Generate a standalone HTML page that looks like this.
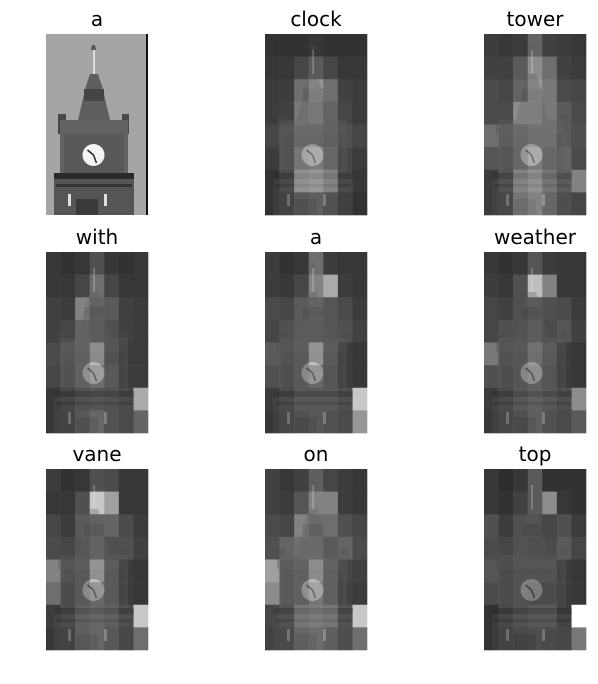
<!DOCTYPE html>
<html><head><meta charset="utf-8"><style>
body{margin:0;background:#fff;}
svg{display:block;}
text{font-family:"DejaVu Sans","Liberation Sans",sans-serif;font-size:20px;fill:#000;}
</style></head><body>
<svg id="fig" width="598" height="684" viewBox="0 0 598 684" xmlns="http://www.w3.org/2000/svg">
<defs>
<g id="tower">
  <rect x="47.3" y="13" width="1.6" height="27" fill="#e8e8e8"/>
  <path d="M46 11 l3 0 l1 5 l-5 0z" fill="#555"/>
  <path d="M44 40 L52 40 L56 52 L64 86 L32 86 L40 52 Z" fill="#5e5e5e"/>
  <rect x="38" y="55" width="20" height="12" fill="#444"/>
  <rect x="12" y="80" width="8" height="20" fill="#4a4a4a"/>
  <rect x="76" y="80" width="7" height="20" fill="#4a4a4a"/>
  <rect x="14" y="86" width="68" height="60" fill="#626262"/>
  <rect x="18" y="100" width="60" height="40" fill="#585858"/>
  <rect x="8" y="139" width="80" height="42" fill="#555"/>
  <rect x="8" y="139" width="80" height="6" fill="#2a2a2a"/>
  <rect x="10" y="150" width="76" height="3" fill="#333"/>
  <rect x="22" y="160" width="3" height="12" fill="#ddd"/>
  <rect x="58" y="160" width="3" height="12" fill="#ddd"/>
  <rect x="30" y="165" width="22" height="16" fill="#3a3a3a"/>
  <circle cx="47.5" cy="121" r="11" fill="#f4f4f4"/>
  <path d="M47.5 121 l-6 -5 M47.5 121 l3 8" stroke="#222" stroke-width="1.5"/>
</g>
</defs>
</svg>
<script>
const titles = ["a","clock","tower","with","a","weather","vane","on","top"];
const attClock = [[50,50,50,55,50,50,50],[55,55,70,90,70,55,55],[60,60,110,150,110,65,60],[60,65,120,130,100,70,60],[70,80,110,110,100,80,70],[60,80,130,140,110,70,60],[50,70,170,180,150,70,55],[50,60,90,100,80,55,50]];
const attTower = [[60,55,60,100,65,60,55],[65,65,90,140,110,65,60],[75,70,100,150,120,75,70],[75,75,140,140,120,90,75],[110,95,110,120,120,90,80],[85,85,110,140,110,100,75],[60,80,150,170,130,95,130],[60,65,130,150,110,75,70]];
const attWith = [[55,50,55,80,55,50,55],[55,55,70,110,70,55,55],[65,60,130,100,90,65,60],[65,70,100,90,80,65,60],[75,85,100,160,80,60,60],[70,80,100,120,90,60,60],[55,65,80,85,80,70,170],[55,60,90,110,80,70,100]];
const attA = [[60,50,55,110,60,55,55],[60,55,70,130,170,60,55],[75,70,90,100,85,75,60],[70,80,90,90,85,80,65],[90,80,90,170,90,60,55],[80,75,90,110,85,60,55],[60,70,90,90,90,75,200],[55,65,80,90,80,70,150]];
const attWeather = [[55,50,55,85,60,55,55],[60,55,80,190,130,55,55],[70,65,80,90,80,75,60],[70,80,80,90,75,85,65],[120,80,85,120,90,60,55],[80,75,85,100,85,60,55],[60,70,90,100,90,75,140],[55,65,80,100,80,70,90]];
const attVane = [[60,50,55,80,75,55,55],[55,55,80,200,160,55,55],[70,60,90,100,100,75,60],[75,70,85,100,80,80,65],[130,80,90,170,90,60,55],[110,70,90,110,90,60,55],[60,70,100,110,100,75,200],[55,60,100,110,90,65,110]];
const attOn = [[65,55,65,95,70,60,55],[65,60,85,130,130,60,55],[75,70,130,110,110,80,70],[80,100,110,110,90,100,75],[160,90,100,160,100,70,65],[140,90,100,130,100,65,60],[70,80,130,140,130,80,200],[65,70,110,120,100,75,110]];
const attTop = [[55,45,55,90,50,50,50],[55,50,65,90,140,55,50],[80,60,80,80,70,80,60],[75,70,80,75,75,90,70],[85,70,80,80,80,60,55],[75,70,80,70,70,60,55],[50,65,80,90,90,60,255],[50,60,70,75,70,65,120]];
const maps = [null, attClock, attTower, attWith, attA, attWeather, attVane, attOn, attTop];

const NS = "http://www.w3.org/2000/svg";
const svg = document.getElementById("fig");
const colX = [46,265,484], rowY = [34,252,469];
const PW = 102, PH = 181;
function mk(t, attrs){const e=document.createElementNS(NS,t);for(const k in attrs)e.setAttribute(k,attrs[k]);return e;}
titles.forEach((t,i)=>{
  const px = colX[i%3], py = rowY[Math.floor(i/3)];
  const g = mk("g",{transform:`translate(${px},${py})`});
  
  
  svg.appendChild(g);
  const title = mk("text",{x:PW/2,y:-8,"text-anchor":"middle"});
  title.textContent = t;
  
  
  g.appendChild(title);
  const m = maps[i];
  if(!m){
    const bg = mk("rect",{x:0,y:0,width:PW,height:PH,fill:"#a5a5a5"});
    
    
    g.appendChild(bg);
    g.appendChild(mk("use",{href:"#tower"}));
    g.appendChild(mk("rect",{x:PW-2,y:0,width:2,height:PH,fill:"#111"}));
  } else {
    const rows = m.length, cols = m[0].length;
    const cw = PW/cols, ch = PH/rows;
    m.forEach((row,r)=>row.forEach((v,c)=>{
      const cell = mk("rect",{x:c*cw,y:r*ch,width:cw+0.3,height:ch+0.3,fill:`rgb(${v},${v},${v})`});
      
      
      g.appendChild(cell);
    }));
    g.appendChild(mk("use",{href:"#tower",opacity:"0.3"}));
  }
});
</script>
</body></html>
